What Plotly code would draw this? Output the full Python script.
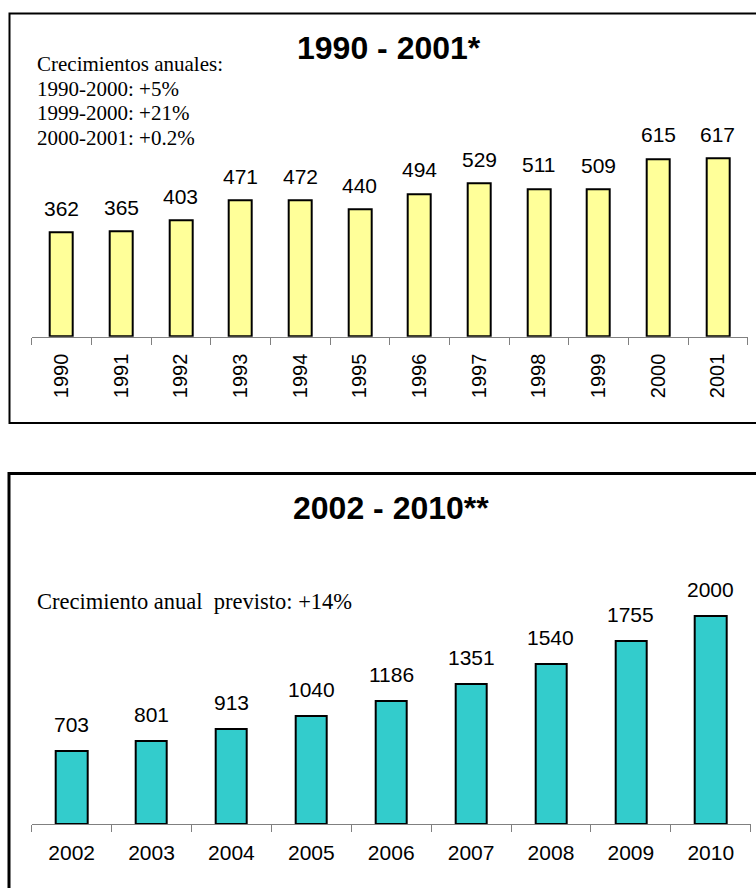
import plotly.graph_objects as go

# Annual values, 1990-2001
years_a = ["1990", "1991", "1992", "1993", "1994", "1995",
           "1996", "1997", "1998", "1999", "2000", "2001"]
values_a = [362, 365, 403, 471, 472, 440, 494, 529, 511, 509, 615, 617]

# Forecast values, 2002-2010
years_b = ["2002", "2003", "2004", "2005", "2006", "2007", "2008", "2009", "2010"]
values_b = [703, 801, 913, 1040, 1186, 1351, 1540, 1755, 2000]

title_a = "1990 - 2001*"
title_b = "2002 - 2010**"
notes_a = ["Crecimientos anuales:", "1990-2000: +5%", "1999-2000: +21%", "2000-2001: +0.2%"]
note_b = "Crecimiento anual&nbsp; previsto: +14%"

W, H = 756, 888
SANS = "Liberation Sans, Arial, sans-serif"
SERIF = "Liberation Serif, Times New Roman, serif"


def px_x(p):
    return p / W


def px_y(p):
    return 1 - p / H


fig = go.Figure()

fig.add_trace(go.Bar(
    x=years_a, y=values_a, xaxis="x", yaxis="y",
    width=0.39,
    marker=dict(color="#FFFF99", line=dict(color="black", width=2)),
    hoverinfo="x+y",
))
fig.add_trace(go.Bar(
    x=years_b, y=values_b, xaxis="x2", yaxis="y2",
    width=0.39,
    marker=dict(color="#33CCCC", line=dict(color="black", width=2)),
    hoverinfo="x+y",
))

common_x = dict(
    type="category", tickson="boundaries", ticks="outside", ticklen=7,
    tickcolor="#808080", showline=True, linecolor="#808080", linewidth=1,
    showgrid=False, zeroline=False, fixedrange=True, automargin=False,
)
common_y = dict(visible=False, showgrid=False, zeroline=False, fixedrange=True)

fig.update_layout(
    width=W, height=H,
    margin=dict(l=0, r=0, t=0, b=0, pad=0, autoexpand=False),
    paper_bgcolor="white", plot_bgcolor="rgba(0,0,0,0)",
    showlegend=False, bargap=0,
    xaxis=dict(domain=[px_x(31.7), px_x(747.7)], anchor="y", tickangle=-90,
               range=[-0.5, len(years_a) - 0.5], ticklabelstandoff=8,
               categoryorder="array", categoryarray=years_a,
               tickfont=dict(family=SANS, size=20, color="black"), **common_x),
    yaxis=dict(domain=[px_y(336.7), px_y(134.3)], range=[0, 700], anchor="x", **common_y),
    xaxis2=dict(domain=[px_x(31.7), px_x(750.7)], anchor="y2", tickangle=0,
                range=[-0.5, len(years_b) - 0.5], ticklabelstandoff=10,
                categoryorder="array", categoryarray=years_b,
                tickfont=dict(family=SANS, size=21, color="black"), **common_x),
    yaxis2=dict(domain=[px_y(824), px_y(564)], range=[0, 2500], anchor="x2", **common_y),
)

annotations = []

# Value labels above the bars (x given as category index)
for i, v in enumerate(values_a):
    annotations.append(dict(x=i, y=v, xref="x", yref="y", text=str(v),
                            showarrow=False, yanchor="bottom", yshift=10.5,
                            font=dict(family=SANS, size=21, color="black")))
for i, v in enumerate(values_b):
    annotations.append(dict(x=i, y=v, xref="x2", yref="y2", text=str(v),
                            showarrow=False, yanchor="bottom", yshift=13,
                            font=dict(family=SANS, size=21, color="black")))

# Panel titles
annotations.append(dict(x=px_x(389), y=px_y(48), xref="paper", yref="paper",
                        text="<b>%s</b>" % title_a, showarrow=False,
                        xanchor="center", yanchor="middle",
                        font=dict(family=SANS, size=32, color="black")))
annotations.append(dict(x=px_x(391), y=px_y(507.5), xref="paper", yref="paper",
                        text="<b>%s</b>" % title_b, showarrow=False,
                        xanchor="center", yanchor="middle",
                        font=dict(family=SANS, size=32, color="black")))

# Growth notes
for i, line in enumerate(notes_a):
    annotations.append(dict(x=px_x(35), y=px_y(64 + 24.7 * i), xref="paper", yref="paper",
                            text=line, showarrow=False, xanchor="left", yanchor="middle",
                            font=dict(family=SERIF, size=21, color="black")))
annotations.append(dict(x=px_x(35), y=px_y(601.5), xref="paper", yref="paper",
                        text=note_b, showarrow=False, xanchor="left", yanchor="middle",
                        font=dict(family=SERIF, size=22.5, color="black")))

fig.update_layout(annotations=annotations)

# Panel frames
fig.add_shape(type="rect", xref="paper", yref="paper",
              x0=px_x(9.5), x1=px_x(800), y0=px_y(423), y1=px_y(13.5),
              line=dict(color="black", width=2), fillcolor="rgba(0,0,0,0)", layer="below")
fig.add_shape(type="rect", xref="paper", yref="paper",
              x0=px_x(9), x1=px_x(800), y0=px_y(950), y1=px_y(473.5),
              line=dict(color="black", width=3), fillcolor="rgba(0,0,0,0)", layer="below")

fig.write_html("out.html")
